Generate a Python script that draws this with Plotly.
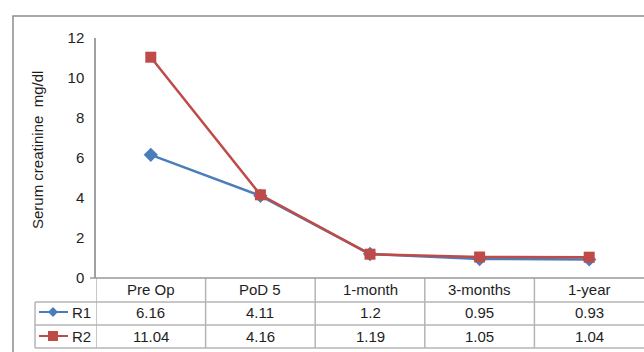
import plotly.graph_objects as go

categories = ["Pre Op", "PoD 5", "1-month", "3-months", "1-year"]
r1_values = [6.16, 4.11, 1.2, 0.95, 0.93]
r2_values = [11.04, 4.16, 1.19, 1.05, 1.04]
r1_labels = ["6.16", "4.11", "1.2", "0.95", "0.93"]
r2_labels = ["11.04", "4.16", "1.19", "1.05", "1.04"]
series_names = ["R1", "R2"]
y_ticks = [0, 2, 4, 6, 8, 10, 12]

BLUE = "#4A7EBB"
RED = "#BE4B48"
GRID = "#B4B4B4"
TXT = "#1E1E1E"
FONT = "Liberation Sans, Arial, sans-serif"

W, H = 644, 352
L, R, T, B = 96, 0, 38, 74
pw, ph = W - L - R, H - T - B

def px(x):
    return (x - L) / pw

def py(y):
    return (H - B - y) / ph

fig = go.Figure()
fig.add_trace(go.Scatter(x=categories, y=r1_values, name=series_names[0], mode="lines+markers",
                         line=dict(color=BLUE, width=2.5),
                         marker=dict(symbol="diamond", size=11, color=BLUE)))
fig.add_trace(go.Scatter(x=categories, y=r2_values, name=series_names[1], mode="lines+markers",
                         line=dict(color=RED, width=2.5),
                         marker=dict(symbol="square", size=11, color=RED)))

shapes = []
ann = []
# outer frame
shapes.append(dict(type="rect", xref="paper", yref="paper", x0=px(13), x1=px(700), y0=py(400), y1=py(16),
                   line=dict(color="#8C8C8C", width=1.5), layer="below"))
# table horizontal lines
row_lines = [302, 325, 348]
for yy in row_lines:
    shapes.append(dict(type="line", xref="paper", yref="paper", x0=px(35), x1=px(700), y0=py(yy), y1=py(yy),
                       line=dict(color=GRID, width=1.5)))
# vertical lines between categories
n = len(categories)
for i in range(n):
    shapes.append(dict(type="line", xref="x", yref="paper", x0=i - 0.5, x1=i - 0.5, y0=py(348), y1=0,
                       line=dict(color=GRID, width=1.5)))
shapes.append(dict(type="line", xref="paper", yref="paper", x0=px(35), x1=px(35), y0=py(348), y1=py(302),
                   line=dict(color=GRID, width=1.5)))
# x axis line
shapes.append(dict(type="line", xref="paper", yref="paper", x0=px(90), x1=px(700), y0=0, y1=0,
                   line=dict(color="#999999", width=1.5)))

row_y = [289, 312, 336]
tfont = dict(size=15, color=TXT, family=FONT)
for i, c in enumerate(categories):
    for r, txt in enumerate([c, r1_labels[i], r2_labels[i]]):
        ann.append(dict(x=c, y=py(row_y[r]), xref="x", yref="paper", text=txt, showarrow=False,
                        xanchor="center", yanchor="middle", font=tfont))

# legend keys in table
for k, (nm, col) in enumerate(zip(series_names, [BLUE, RED])):
    yy = row_y[k + 1]
    shapes.append(dict(type="line", xref="paper", yref="paper", x0=px(39), x1=px(68), y0=py(yy), y1=py(yy),
                       line=dict(color=col, width=2)))
    cx = 53
    d = 5
    if k == 0:
        path = f"M {px(cx-d)} {py(yy)} L {px(cx)} {py(yy-d)} L {px(cx+d)} {py(yy)} L {px(cx)} {py(yy+d)} Z"
    else:
        path = f"M {px(cx-d)} {py(yy-d)} L {px(cx+d)} {py(yy-d)} L {px(cx+d)} {py(yy+d)} L {px(cx-d)} {py(yy+d)} Z"
    shapes.append(dict(type="path", xref="paper", yref="paper", path=path, fillcolor=col,
                       line=dict(color=col, width=0)))
    ann.append(dict(x=px(81), y=py(yy), xref="paper", yref="paper", text=nm, showarrow=False,
                    xanchor="center", yanchor="middle", font=tfont))

# y axis title
ann.append(dict(x=px(37), y=py(150), xref="paper", yref="paper", text="Serum creatinine  mg/dl",
                textangle=-90, showarrow=False, xanchor="center", yanchor="middle",
                font=dict(size=15, color=TXT, family=FONT)))

fig.update_layout(
    width=W, height=H,
    margin=dict(l=L, r=R, t=T, b=B),
    paper_bgcolor="white", plot_bgcolor="white",
    showlegend=False,
    font=dict(family=FONT, color=TXT),
    shapes=shapes, annotations=ann,
    xaxis=dict(type="category", range=[-0.5, n - 0.5], showticklabels=False, showgrid=False,
               zeroline=False, showline=False, ticks=""),
    yaxis=dict(range=[0, 12], tickvals=y_ticks, showgrid=False, zeroline=False,
               showline=True, linecolor="#A0A0A0", linewidth=1.5, ticks="",
               tickfont=dict(size=15, color=TXT, family=FONT), ticklabelstandoff=7),
)
fig.write_html("out.html", config={"displayModeBar": False},
               post_script="document.body.style.margin='0';document.body.style.overflow='hidden';")
